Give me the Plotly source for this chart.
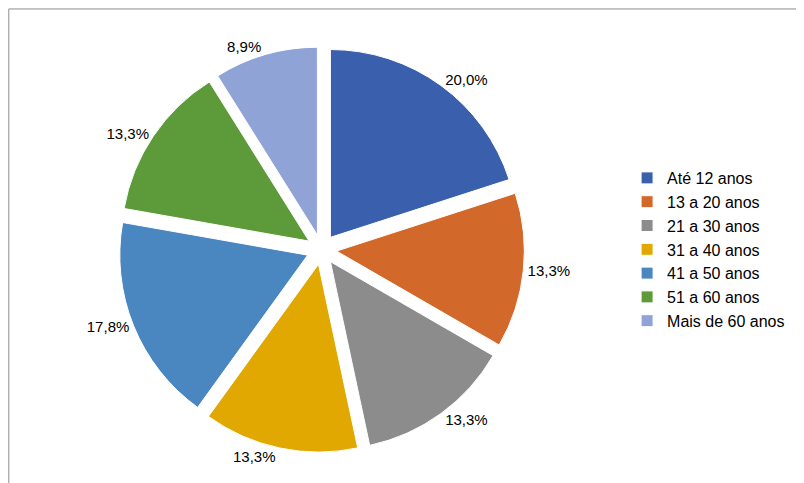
import plotly.graph_objects as go

faixas = ["Até 12 anos", "13 a 20 anos", "21 a 30 anos", "31 a 40 anos",
          "41 a 50 anos", "51 a 60 anos", "Mais de 60 anos"]
percentuais = [20.0, 13.3, 13.3, 13.3, 17.8, 13.3, 8.9]
cores = ["#3A5FAD", "#D2692A", "#8C8C8C", "#E0A800", "#4A86C0", "#5D9A3A", "#8FA3D6"]

rotulos = [f"{v:.1f}%".replace(".", ",") for v in percentuais]

fig = go.Figure(go.Pie(
    labels=faixas, values=percentuais, text=rotulos,
    textinfo="text", textposition="outside",
    textfont=dict(size=15, color="black"),
    marker=dict(colors=cores, line=dict(color="white", width=1)),
    pull=[0.08] * 7, sort=False, direction="clockwise", rotation=0,
    domain=dict(x=[0.05, 0.73], y=[0.08, 0.92]),
    outsidetextfont=dict(size=15, color="black"),
))

fig.update_layout(
    width=804, height=483,
    margin=dict(l=0, r=0, t=0, b=0, autoexpand=False),
    paper_bgcolor="white",
    font=dict(family="Liberation Sans, Arial", size=16, color="black"),
    legend=dict(x=0.77, y=0.5, yanchor="middle", font=dict(size=16),
                itemwidth=30),
    shapes=[dict(type="rect", xref="paper", yref="paper", x0=0.001, y0=0.002,
                 x1=0.999, y1=0.998, line=dict(color="#8c8c8c", width=1))],
)

fig.write_html("out.html")
